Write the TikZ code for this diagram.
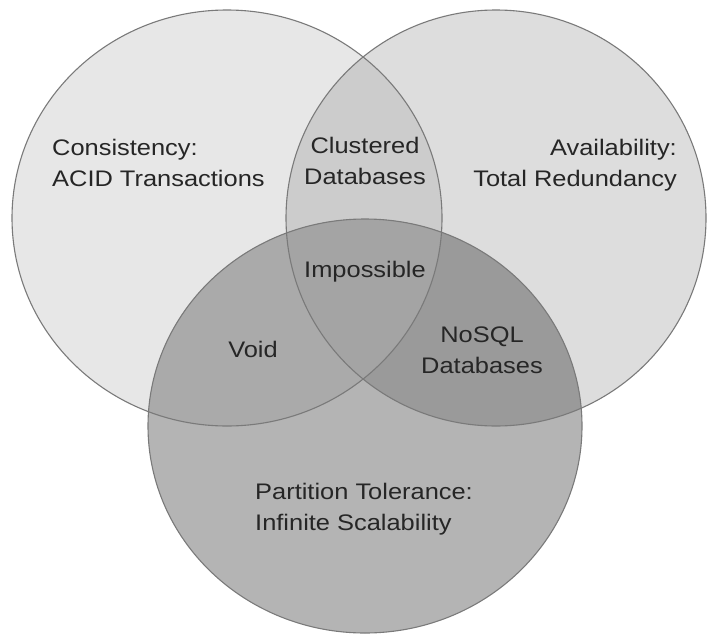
\documentclass[tikz,border=0pt]{standalone}
\usepackage{fontspec}
\setmainfont[FakeStretch=1.13]{Liberation Sans}
\begin{document}
\begin{tikzpicture}[x=1pt,y=-1pt,
  label/.style={text=black!85, font=\fontsize{22.5}{31}\selectfont, inner sep=0pt},
  rim/.style={draw=black!52, line width=1.1pt}]
\useasboundingbox (0,0) rectangle (709,637);
% the three sets
\def\setC{(227,218) ellipse [x radius=215, y radius=208]}
\def\setA{(496,218) ellipse [x radius=210, y radius=208]}
\def\setP{(365,426) ellipse [x radius=217, y radius=207]}
\definecolor{cOnly}{gray}{0.905}
\definecolor{aOnly}{gray}{0.865}
\definecolor{caBoth}{gray}{0.80}
\definecolor{pOnly}{gray}{0.705}
\definecolor{cpBoth}{gray}{0.665}
\definecolor{apBoth}{gray}{0.605}
\definecolor{allThree}{gray}{0.645}
% region fills
\fill[cOnly] \setC;
\fill[aOnly] \setA;
\begin{scope}\clip \setC; \fill[caBoth] \setA; \end{scope}
\fill[pOnly] \setP;
\begin{scope}\clip \setC; \fill[cpBoth] \setP; \end{scope}
\begin{scope}\clip \setA; \fill[apBoth] \setP; \end{scope}
\begin{scope}\clip \setC; \clip \setA; \fill[allThree] \setP; \end{scope}
% outlines
\draw[rim] \setC;
\draw[rim] \setA;
\draw[rim] \setP;
% labels (base anchor sits on the last line)
\node[label, align=left, anchor=base west] (consistency) at (52,186) {Consistency:\\ACID Transactions};
\node[label, align=center, anchor=base] (clustered) at (365,184) {Clustered\\Databases};
\node[label, align=right, anchor=base east] (availability) at (677,186) {Availability:\\Total Redundancy};
\node[label, anchor=base] (impossible) at (365,277) {Impossible};
\node[label, anchor=base] (void) at (253,357) {Void};
\node[label, align=center, anchor=base] (nosql) at (482,373) {NoSQL\\Databases};
\node[label, align=left, anchor=base west] (partition) at (255,530) {Partition Tolerance:\\Infinite Scalability};
\end{tikzpicture}
\end{document}
